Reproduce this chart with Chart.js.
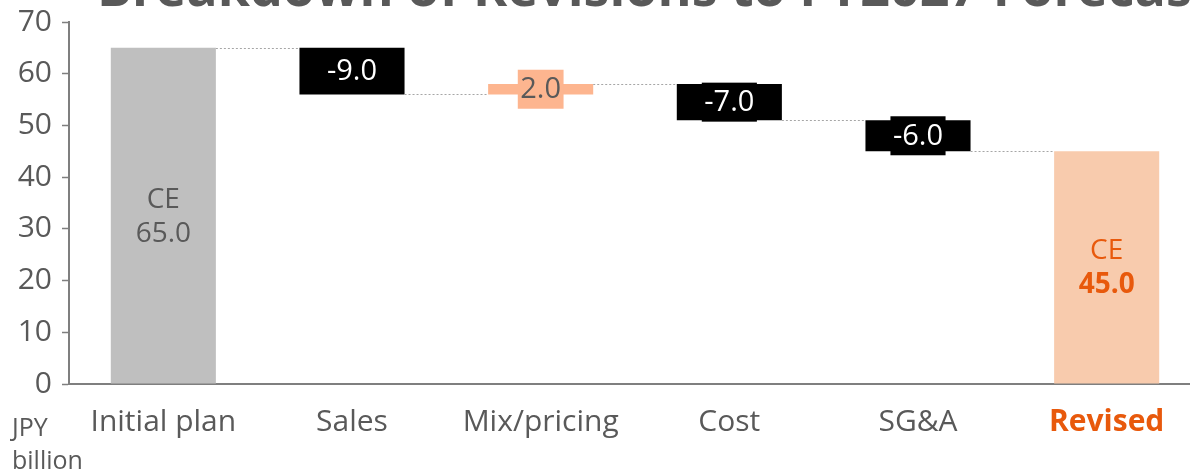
<!DOCTYPE html>
<html>
<head>
<meta charset="utf-8">
<script src="https://cdn.jsdelivr.net/npm/chart.js@4/dist/chart.umd.min.js"></script>
<style>
  html, body { margin: 0; padding: 0; background: #fff; overflow: hidden; }
  #wrap { position: relative; width: 1190px; height: 470px; overflow: hidden; }
</style>
</head>
<body>
<div id="wrap"><canvas id="Waterfall" width="1210" height="470"></canvas></div>
<script>
// ================= Data =================
const titleText = 'Breakdown of Revisions to FY2027 Forecast';
const unitLines = ['JPY', 'billion'];
const categories = ['Initial plan', 'Sales', 'Mix/pricing', 'Cost', 'SG&A', 'Revised'];
const barLow  = [0, 56, 56, 51, 45, 0];
const barHigh = [65, 65, 58, 58, 51, 45];
const valueLabels = ['65.0', '-9.0', '2.0', '-7.0', '-6.0', '45.0'];
const totalPrefix = 'CE';
const connectorLevels = [65, 56, 58, 51, 45]; // between bar i and i+1
const yTicks = [0, 10, 20, 30, 40, 50, 60, 70];

// ================= Styles =================
const GREY_TEXT = '#595959';
const ORANGE_TEXT = '#e8590c';
const AXIS = '#7f7f7f';
const barColors = ['#bfbfbf', '#000000', '#fdb58f', '#000000', '#000000', '#f8cbad'];
const FONT = "'Open Sans', 'Noto Sans', sans-serif";

// title + unit text drawn straight onto the canvas
const textPlugin = {
  id: 'extraText',
  afterDraw(chart) {
    const ctx = chart.ctx;
    ctx.save();
    ctx.fillStyle = GREY_TEXT;
    ctx.font = `bold 52px ${FONT}`;
    ctx.textAlign = 'left';
    ctx.textBaseline = 'alphabetic';
    ctx.fillText(titleText, 97, 6);

    ctx.font = `25px ${FONT}`;
    ctx.textAlign = 'left';
    ctx.textBaseline = 'middle';
    ctx.fillText(unitLines[0], 12, 429);
    ctx.fillText(unitLines[1], 12, 462);
    ctx.restore();
  }
};

// dotted connectors + value labels
const waterfallPlugin = {
  id: 'waterfallLabels',
  afterDatasetsDraw(chart) {
    const ctx = chart.ctx;
    const yScale = chart.scales.y;
    const bars = chart.getDatasetMeta(0).data;
    ctx.save();

    // ---- connectors
    ctx.strokeStyle = '#a6a6a6';
    ctx.lineWidth = 1;
    ctx.setLineDash([2, 2]);
    connectorLevels.forEach((lvl, i) => {
      const a = bars[i], b = bars[i + 1];
      const y = Math.round(yScale.getPixelForValue(lvl)) + 0.5;
      ctx.beginPath();
      ctx.moveTo(a.x + a.width / 2, y);
      ctx.lineTo(b.x - b.width / 2, y);
      ctx.stroke();
    });
    ctx.setLineDash([]);

    // ---- labels
    bars.forEach((el, i) => {
      const cy = (el.y + el.base) / 2;
      ctx.textAlign = 'center';
      ctx.textBaseline = 'middle';
      if (i === 0 || i === bars.length - 1) {
        const isLast = i === bars.length - 1;
        ctx.fillStyle = isLast ? ORANGE_TEXT : GREY_TEXT;
        ctx.font = `28px ${FONT}`;
        ctx.fillText(totalPrefix, el.x, cy - 16);
        ctx.font = `${isLast ? 'bold ' : ''}28px ${FONT}`;
        ctx.fillText(valueLabels[i], el.x, cy + 18);
        return;
      }
      ctx.font = `29px ${FONT}`;
      const w = ctx.measureText(valueLabels[i]).width + 5;
      const h = 39;
      ctx.fillStyle = barColors[i];
      ctx.fillRect(el.x - w / 2, cy - h / 2, w, h);
      ctx.fillStyle = barColors[i] === '#000000' ? '#ffffff' : GREY_TEXT;
      ctx.fillText(valueLabels[i], el.x, cy + 1);
    });
    ctx.restore();
  }
};

const ctx = document.getElementById('Waterfall').getContext('2d');

new Chart(ctx, {
  type: 'bar',
  data: {
    labels: categories,
    datasets: [{
      data: categories.map((_, i) => [barLow[i], barHigh[i]]),
      backgroundColor: barColors,
      borderWidth: 0,
      borderSkipped: false,
      categoryPercentage: 1,
      barPercentage: 0.557
    }]
  },
  options: {
    responsive: false,
    animation: false,
    layout: { padding: { top: 22, right: 9, left: 0, bottom: 0 } },
    plugins: {
      legend: { display: false },
      tooltip: { enabled: false },
      title: { display: false }
    },
    scales: {
      x: {
        grid: { display: false, drawTicks: false },
        border: { display: true, color: AXIS, width: 2 },
        ticks: {
          padding: 20,
          autoSkip: false,
          maxRotation: 0,
          color: c => c.index === categories.length - 1 ? ORANGE_TEXT : GREY_TEXT,
          font: c => ({ family: FONT, size: 30, weight: c.index === categories.length - 1 ? 'bold' : 'normal' })
        },
        afterFit: s => { s.height = 86; }
      },
      y: {
        min: yTicks[0],
        max: yTicks[yTicks.length - 1],
        afterBuildTicks: s => { s.ticks = yTicks.map(v => ({ value: v })); },
        grid: { drawOnChartArea: false, drawTicks: true, tickLength: 7, tickColor: AXIS, tickWidth: 1.5 },
        border: { display: true, color: AXIS, width: 2 },
        ticks: {
          padding: 10,
          color: GREY_TEXT,
          font: { family: FONT, size: 30, lineHeight: 0.6 }
        },
        afterFit: s => { s.width = 69; }
      }
    }
  },
  plugins: [waterfallPlugin, textPlugin]
});
</script>
</body>
</html>
